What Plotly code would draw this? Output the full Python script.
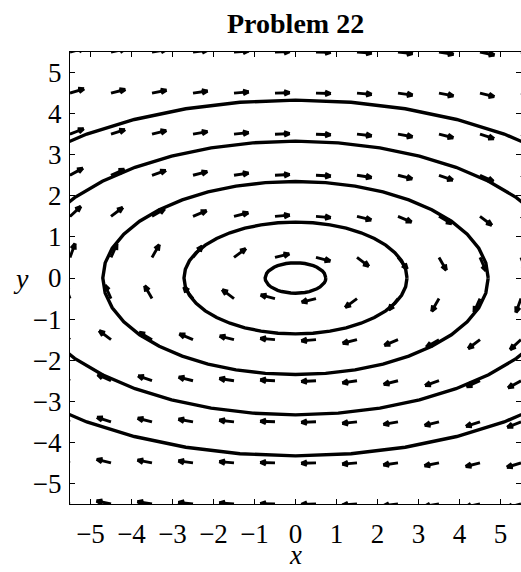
import numpy as np
import plotly.graph_objects as go

# ---- data ----
title_text = "Problem 22"
x_grid = [-5.5, -4.5, -3.5, -2.5, -1.5, -0.5, 0.5, 1.5, 2.5, 3.5, 4.5, 5.5]
y_grid = [-5.5, -4.5, -3.5, -2.5, -1.5, -0.5, 0.5, 1.5, 2.5, 3.5, 4.5, 5.5]
# system: x' = y, y' = -x/4  (trajectories x^2 + 4 y^2 = const)
field_a = 1.0      # x' = field_a * y
field_b = -0.25    # y' = field_b * x
# semi-minor axes (y-intercepts) of the plotted trajectories
orbit_levels = [0.37, 1.36, 2.35, 3.33, 4.33]
tick_vals = [-5, -4, -3, -2, -1, 0, 1, 2, 3, 4, 5]
axis_range = [-5.5, 5.5]

# ---- styling ----
arrow_len = 0.36
head_len = 0.15
head_ang = np.deg2rad(22)
serif = "Liberation Serif"

fig = go.Figure()

# trajectories (ellipses)
for b in orbit_levels:
    a = b * np.sqrt(-field_a / field_b)
    t = np.linspace(0, 2 * np.pi, 41)
    fig.add_trace(go.Scatter(x=a * np.cos(t), y=b * np.sin(t), mode="lines",
                             line=dict(color="black", width=3.4),
                             hoverinfo="skip", showlegend=False))

# direction field (normalized arrows, tail at grid point)
xs, ys = [], []
for gx in x_grid:
    for gy in y_grid:
        u = field_a * gy
        v = field_b * gx
        n = np.hypot(u, v)
        if n == 0:
            continue
        ux, uy = u / n, v / n
        hx, hy = gx + arrow_len * ux, gy + arrow_len * uy
        xs += [gx, hx, None]
        ys += [gy, hy, None]
        for s in (1, -1):
            c, sn = np.cos(s * head_ang), np.sin(s * head_ang)
            bx = -(ux * c - uy * sn)
            by = -(ux * sn + uy * c)
            xs += [hx, hx + head_len * bx, None]
            ys += [hy, hy + head_len * by, None]
fig.add_trace(go.Scatter(x=xs, y=ys, mode="lines",
                         line=dict(color="black", width=2.9),
                         hoverinfo="skip", showlegend=False))

axis_common = dict(range=axis_range, tickvals=tick_vals, ticks="inside", ticklen=5,
                   tickwidth=1, tickcolor="black", showline=True, linecolor="black",
                   linewidth=1.3, mirror="ticks", showgrid=False, zeroline=False,
                   automargin=False,
                   tickfont=dict(family=serif, size=27, color="black"))
fig.update_xaxes(**axis_common, ticklabelstandoff=5)
fig.update_yaxes(**axis_common, ticklabelstandoff=2)

fig.update_layout(
    width=521, height=572,
    margin=dict(l=70, r=0, t=52, b=68),
    plot_bgcolor="white", paper_bgcolor="white",
    showlegend=False,
    annotations=[
        dict(text="<b>" + title_text + "</b>", xref="paper", yref="paper", x=0.5, y=1.0,
             yshift=29, xanchor="center", yanchor="middle", showarrow=False,
             font=dict(family=serif, size=28, color="black")),
        dict(text="<i>x</i>", xref="paper", yref="paper", x=0.5, y=0, yshift=-68,
             xanchor="center", yanchor="bottom", showarrow=False,
             font=dict(family=serif, size=27, color="black")),
        dict(text="<i>y</i>", xref="paper", yref="paper", x=0, xshift=-49, y=0.5,
             xanchor="center", yanchor="middle", showarrow=False,
             font=dict(family=serif, size=28, color="black")),
    ],
)

fig.write_html("out.html", config={"displayModeBar": False},
               post_script="document.body.style.margin='0';document.body.style.overflow='hidden';")
